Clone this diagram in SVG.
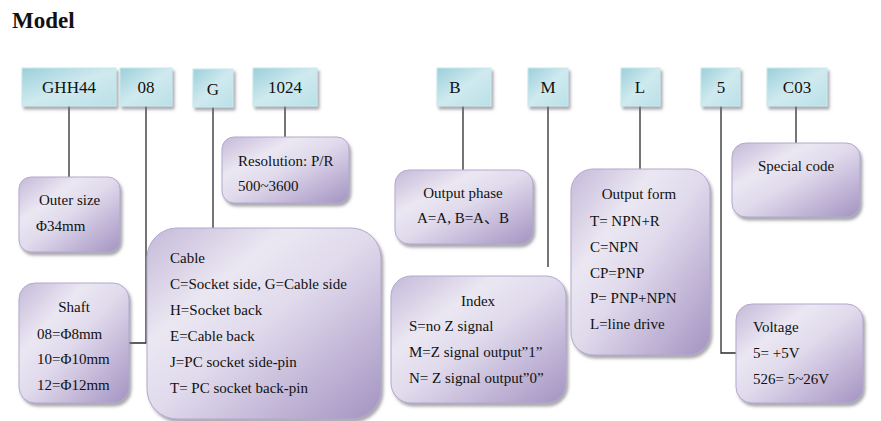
<svg xmlns="http://www.w3.org/2000/svg" width="881" height="421" viewBox="0 0 881 421">
<defs>
<linearGradient id="cyan" x1="0" y1="0" x2="1" y2="1">
<stop offset="0" stop-color="#9ccfda"/>
<stop offset="0.5" stop-color="#cfeaef"/>
<stop offset="1" stop-color="#b9e0e7"/>
</linearGradient>
<linearGradient id="lav" x1="0" y1="0" x2="1" y2="1">
<stop offset="0" stop-color="#c4b9d9"/>
<stop offset="0.3" stop-color="#ebe7f2"/>
<stop offset="0.5" stop-color="#e0daec"/>
<stop offset="0.75" stop-color="#c2b6d7"/>
<stop offset="1" stop-color="#a394c1"/>
</linearGradient>
<filter id="sh" x="-10%" y="-10%" width="125%" height="130%">
<feDropShadow dx="2" dy="3" stdDeviation="1.5" flood-color="#6e6e78" flood-opacity="0.6"/>
</filter>
</defs>
<style>
text{font-family:"Liberation Serif","Times New Roman","Noto Sans CJK SC",serif;fill:#111;}
.top rect{fill:url(#cyan);stroke:#c8e8ee;stroke-width:1;filter:url(#sh);}
.top text{font-size:17px;text-anchor:middle;}
.box rect{fill:url(#lav);stroke:#b3a8cd;stroke-width:1;filter:url(#sh);}
.box text{font-size:15px;}
.c{text-anchor:middle;}
#connectors path{fill:none;stroke:#2b2b2b;stroke-width:1.3;}
</style>
<text x="12" y="28" style="font-size:23px;font-weight:bold;">Model</text>

<g id="connectors">
<path d="M69 106V177"/>
<path d="M146 106V343H129"/>
<path d="M213 107V228"/>
<path d="M285 106V137"/>
<path d="M463 106V170"/>
<path d="M548 106V267"/>
<path d="M640 106V169"/>
<path d="M721 106V353H736"/>
<path d="M796 106V143"/>
</g>

<g id="code-ghh44" class="top"><rect x="22" y="68" width="94" height="38"/><text x="69" y="93">GHH44</text></g>
<g id="code-08" class="top"><rect x="120" y="68" width="52" height="38"/><text x="146" y="93">08</text></g>
<g id="code-g" class="top"><rect x="193" y="69" width="40" height="38"/><text x="213" y="95">G</text></g>
<g id="code-1024" class="top"><rect x="253" y="68" width="64" height="38"/><text x="285" y="93">1024</text></g>
<g id="code-b" class="top"><rect x="437" y="68" width="54" height="38"/><text x="455" y="93">B</text></g>
<g id="code-m" class="top"><rect x="528" y="68" width="40" height="38"/><text x="548" y="93">M</text></g>
<g id="code-l" class="top"><rect x="621" y="68" width="39" height="38"/><text x="640" y="93">L</text></g>
<g id="code-5" class="top"><rect x="701" y="68" width="39" height="38"/><text x="721" y="93">5</text></g>
<g id="code-c03" class="top"><rect x="767" y="68" width="60" height="38"/><text x="797" y="93">C03</text></g>

<g id="outer-size" class="box"><rect x="19" y="177" width="101" height="75" rx="12"/>
<text x="39" y="205">Outer size</text><text x="36" y="231">Φ34mm</text></g>

<g id="shaft" class="box"><rect x="19" y="283" width="110" height="120" rx="16"/>
<text class="c" x="74" y="312">Shaft</text>
<text x="37" y="339">08=Φ8mm</text>
<text x="37" y="364">10=Φ10mm</text>
<text x="37" y="390">12=Φ12mm</text></g>

<g id="cable" class="box"><rect x="147" y="228" width="234" height="191" rx="30"/>
<text x="170" y="263">Cable</text>
<text x="170" y="289">C=Socket side, G=Cable side</text>
<text x="170" y="315">H=Socket back</text>
<text x="170" y="341">E=Cable back</text>
<text x="170" y="367">J=PC socket side-pin</text>
<text x="170" y="393">T= PC socket back-pin</text></g>

<g id="resolution" class="box"><rect x="222" y="137" width="127" height="66" rx="12"/>
<text x="238" y="166">Resolution: P/R</text>
<text x="238" y="191">500~3600</text></g>

<g id="output-phase" class="box"><rect x="395" y="170" width="138" height="74" rx="14"/>
<text class="c" x="463" y="198">Output phase</text>
<text class="c" x="463" y="223">A=A, B=A、B</text></g>

<g id="index" class="box"><rect x="391" y="276" width="175" height="127" rx="20"/>
<text class="c" x="478" y="306">Index</text>
<text x="409" y="331">S=no Z signal</text>
<text x="409" y="357">M=Z signal output”1”</text>
<text x="409" y="383">N= Z signal output”0”</text></g>

<g id="output-form" class="box"><rect x="571" y="169" width="139" height="186" rx="22"/>
<text class="c" x="639" y="199">Output form</text>
<text x="590" y="226">T= NPN+R</text>
<text x="590" y="252">C=NPN</text>
<text x="590" y="278">CP=PNP</text>
<text x="590" y="303">P= PNP+NPN</text>
<text x="590" y="329">L=line drive</text></g>

<g id="special-code" class="box"><rect x="732" y="143" width="128" height="74" rx="14"/>
<text class="c" x="796" y="171">Special code</text></g>

<g id="voltage" class="box"><rect x="736" y="304" width="127" height="99" rx="16"/>
<text x="753" y="332">Voltage</text>
<text x="753" y="358">5= +5V</text>
<text x="753" y="384">526= 5~26V</text></g>
</svg>
